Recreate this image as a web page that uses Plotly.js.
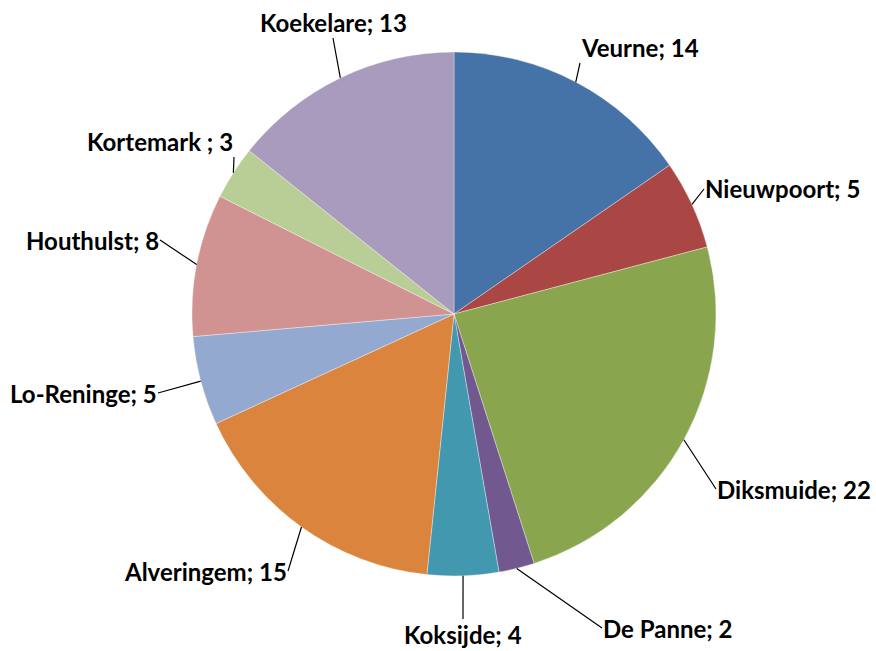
<!DOCTYPE html>
<html>
<head>
<meta charset="utf-8">
<script src="https://cdn.plot.ly/plotly-3.0.1.min.js"></script>
<style>html,body{margin:0;padding:0;background:#fff;}#chart{width:876px;height:651px;}</style>
</head>
<body>
<div id="chart"></div>
<script>
// ---- data ----
const categories = ["Veurne", "Nieuwpoort", "Diksmuide", "De Panne", "Koksijde", "Alveringem", "Lo-Reninge", "Houthulst", "Kortemark ", "Koekelare"];
const values = [14, 5, 22, 2, 4, 15, 5, 8, 3, 13];

// ---- style / layout ----
const colors = ["#4572A7", "#AA4643", "#89A54E", "#71588F", "#4198AF", "#DB843D", "#93A9CF", "#D19392", "#B9CD96", "#A99BBD"];
const W = 876, H = 651;
const cx = 454, cy = 314, R = 262;
// label tail point (px) and anchoring of the text box at that point
const labelPlacement = [
  {tx: 580, ty: 63,  xa: "left",   ya: "bottom"},
  {tx: 704, ty: 189, xa: "left",   ya: "middle"},
  {tx: 716, ty: 489, xa: "left",   ya: "middle"},
  {tx: 602, ty: 628, xa: "left",   ya: "middle"},
  {tx: 463, ty: 619, xa: "center", ya: "top"},
  {tx: 288, ty: 571, xa: "right",  ya: "middle"},
  {tx: 158, ty: 393, xa: "right",  ya: "middle"},
  {tx: 160, ty: 240, xa: "right",  ya: "middle"},
  {tx: 234, ty: 157, xa: "right",  ya: "bottom"},
  {tx: 333, ty: 38,  xa: "center", ya: "bottom"}
];

const total = values.reduce((a, b) => a + b, 0);
let cum = 0;
const annotations = values.map((v, i) => {
  const frac = (cum + v / 2) / total;
  cum += v;
  const ang = frac * 2 * Math.PI;
  const hx = cx + R * Math.sin(ang);
  const hy = cy - R * Math.cos(ang);
  const p = labelPlacement[i];
  return {
    x: hx / W, y: 1 - hy / H, xref: "paper", yref: "paper",
    text: categories[i] + "; " + v,
    showarrow: true, arrowhead: 0, arrowwidth: 1.2, arrowcolor: "#000",
    ax: p.tx - hx, ay: p.ty - hy,
    xanchor: p.xa, yanchor: p.ya,
    standoff: 0, startstandoff: 0, borderpad: 0,
    font: {family: "Lato, 'Liberation Sans', sans-serif", size: 24, color: "#000", weight: "bold"}
  };
});

const trace = {
  type: "pie",
  labels: categories,
  values: values,
  sort: false,
  direction: "clockwise",
  rotation: 0,
  textinfo: "none",
  hoverinfo: "skip",
  marker: {colors: colors, line: {color: "rgba(255,255,255,0.35)", width: 1}},
  domain: {x: [(cx - R) / W, (cx + R) / W], y: [(H - (cy + R)) / H, (H - (cy - R)) / H]}
};

const layout = {
  width: W, height: H,
  margin: {l: 0, r: 0, t: 0, b: 0},
  showlegend: false,
  paper_bgcolor: "#fff",
  annotations: annotations
};

Plotly.newPlot("chart", [trace], layout, {displayModeBar: false, staticPlot: true});
</script>
</body>
</html>
